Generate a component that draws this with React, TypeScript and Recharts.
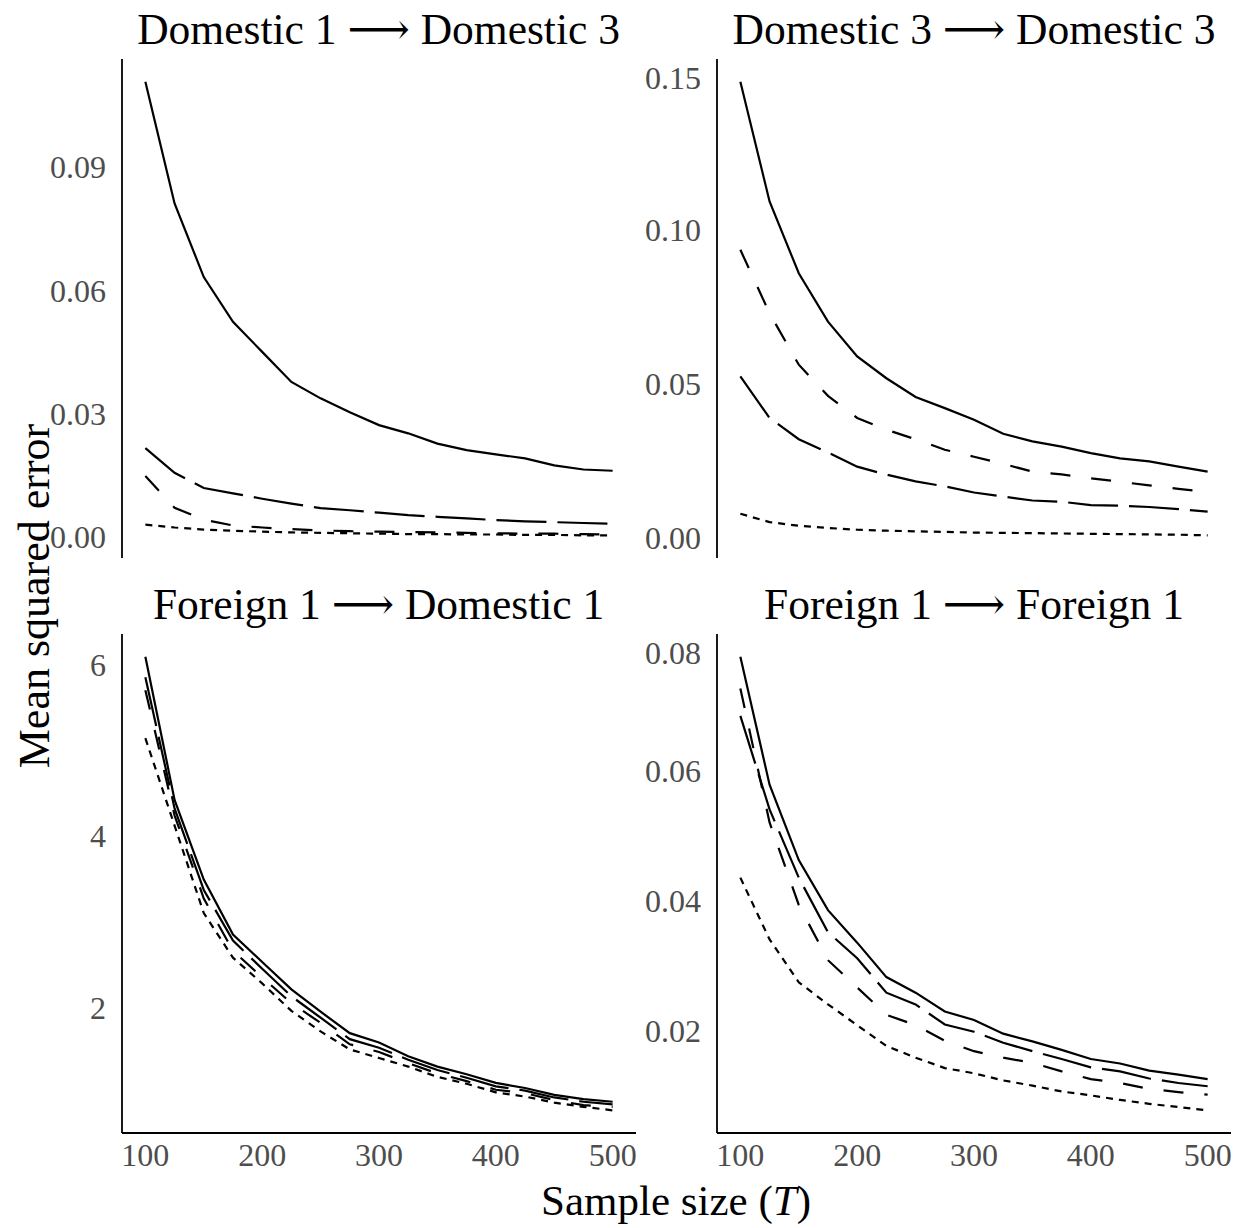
import { LineChart, Line, XAxis, YAxis } from "recharts";

const FONT = "'Liberation Serif', 'DejaVu Serif', serif";

const sampleSizes = [100, 125, 150, 175, 200, 225, 250, 275, 300, 325, 350, 375, 400, 425, 450, 475, 500];
const xTicks = [100, 200, 300, 400, 500];

// Domestic 1 -> Domestic 3
const d1d3Solid = [0.1107, 0.0811, 0.0632, 0.0523, 0.045, 0.0377, 0.0337, 0.0303, 0.0272, 0.0252, 0.0227, 0.0211, 0.0201, 0.0191, 0.0174, 0.0164, 0.0161];
const d1d3Long = [0.0216, 0.0156, 0.0119, 0.0106, 0.0093, 0.0081, 0.007, 0.0065, 0.0059, 0.0053, 0.0049, 0.0045, 0.0041, 0.0038, 0.0036, 0.0034, 0.0032];
const d1d3Dashed = [0.0148, 0.0071, 0.0042, 0.0028, 0.0023, 0.0019, 0.0016, 0.0014, 0.0013, 0.0012, 0.0011, 0.001, 0.0009, 0.0008, 0.0008, 0.0007, 0.0006];
const d1d3Short = [0.003, 0.0023, 0.0018, 0.0015, 0.0013, 0.0011, 0.001, 0.0009, 0.0008, 0.0007, 0.0007, 0.0006, 0.0006, 0.0005, 0.0005, 0.0004, 0.0004];

// Domestic 3 -> Domestic 3
const d3d3Solid = [0.1479, 0.109, 0.0857, 0.07, 0.0587, 0.0516, 0.0455, 0.0419, 0.0381, 0.0336, 0.0311, 0.0294, 0.0273, 0.0256, 0.0246, 0.0229, 0.0213];
const d3d3Long = [0.0522, 0.0387, 0.0318, 0.0275, 0.0229, 0.0203, 0.0181, 0.0165, 0.0145, 0.0132, 0.0119, 0.0115, 0.0104, 0.0102, 0.0098, 0.0091, 0.0083];
const d3d3Dashed = [0.0933, 0.0727, 0.056, 0.0459, 0.0387, 0.0349, 0.0318, 0.0284, 0.0261, 0.0238, 0.0213, 0.0204, 0.0191, 0.018, 0.0168, 0.0157, 0.0147];
const d3d3Short = [0.0076, 0.0049, 0.0037, 0.003, 0.0024, 0.0021, 0.0019, 0.0017, 0.0015, 0.0014, 0.0013, 0.0012, 0.0011, 0.001, 0.0009, 0.0008, 0.0006];

// Foreign 1 -> Domestic 1
const f1d1Solid = [6.09, 4.42, 3.49, 2.85, 2.53, 2.21, 1.95, 1.7, 1.59, 1.43, 1.31, 1.22, 1.12, 1.06, 0.98, 0.93, 0.9];
const f1d1Long = [5.85, 4.32, 3.37, 2.78, 2.45, 2.13, 1.88, 1.63, 1.53, 1.39, 1.27, 1.18, 1.08, 1.03, 0.95, 0.9, 0.87];
const f1d1Dashed = [5.7, 4.24, 3.27, 2.66, 2.35, 2.05, 1.82, 1.57, 1.48, 1.35, 1.23, 1.14, 1.04, 1.0, 0.92, 0.86, 0.84];
const f1d1Short = [5.14, 4.12, 3.1, 2.58, 2.28, 1.96, 1.72, 1.51, 1.41, 1.31, 1.19, 1.11, 1.01, 0.96, 0.89, 0.84, 0.8];

// Foreign 1 -> Foreign 1
const f1f1Solid = [0.0775, 0.0578, 0.0462, 0.0385, 0.0335, 0.0282, 0.0258, 0.0229, 0.0216, 0.0195, 0.0183, 0.017, 0.0156, 0.0149, 0.0138, 0.0132, 0.0125];
const f1f1Long = [0.0684, 0.054, 0.0435, 0.0351, 0.0311, 0.0258, 0.024, 0.0209, 0.0198, 0.0181, 0.0168, 0.0156, 0.0143, 0.0137, 0.0126, 0.0119, 0.0114];
const f1f1Dashed = [0.0726, 0.052, 0.0393, 0.0308, 0.0266, 0.0224, 0.0208, 0.0184, 0.0168, 0.0158, 0.015, 0.0137, 0.0125, 0.0119, 0.011, 0.0105, 0.0101];
const f1f1Short = [0.0435, 0.034, 0.0274, 0.024, 0.0208, 0.0176, 0.0158, 0.0142, 0.0134, 0.0123, 0.0115, 0.0106, 0.01, 0.0093, 0.0087, 0.0082, 0.0077];

const PLOT_W = 514;
const PLOT_H = 499;
const YAXIS_W = 120;
const XAXIS_H = 60;
const COL_X = [121.6, 717];
const ROW_Y = [59, 634];

interface PanelDef {
    title: string;
    solid: number[];
    longDash: number[];
    dashed: number[];
    shortDash: number[];
    yTicks: number[];
    digits: number;
    col: number;
    row: number;
}

const panels: PanelDef[] = [
    { title: "Domestic 1 \u27F6 Domestic 3", solid: d1d3Solid, longDash: d1d3Long, dashed: d1d3Dashed, shortDash: d1d3Short, yTicks: [0, 0.03, 0.06, 0.09], digits: 2, col: 0, row: 0 },
    { title: "Domestic 3 \u27F6 Domestic 3", solid: d3d3Solid, longDash: d3d3Long, dashed: d3d3Dashed, shortDash: d3d3Short, yTicks: [0, 0.05, 0.1, 0.15], digits: 2, col: 1, row: 0 },
    { title: "Foreign 1 \u27F6 Domestic 1", solid: f1d1Solid, longDash: f1d1Long, dashed: f1d1Dashed, shortDash: f1d1Short, yTicks: [2, 4, 6], digits: 0, col: 0, row: 1 },
    { title: "Foreign 1 \u27F6 Foreign 1", solid: f1f1Solid, longDash: f1f1Long, dashed: f1f1Dashed, shortDash: f1f1Short, yTicks: [0.02, 0.04, 0.06, 0.08], digits: 2, col: 1, row: 1 },
];

// ggplot-style 5% expansion on each side
const expand = (series: number[][]): [number, number] => {
    const all = series.flat();
    const lo = Math.min(...all);
    const hi = Math.max(...all);
    const pad = (hi - lo) * 0.05;
    return [lo - pad, hi + pad];
};

const SERIES = [
    { key: "solid", dash: undefined },
    { key: "longDash", dash: "50 11" },
    { key: "dashed", dash: "20 21" },
    { key: "shortDash", dash: "7 6" },
];

const Panel = ({ p }: { p: PanelDef }) => {
    const data = sampleSizes.map((t, i) => ({
        t,
        solid: p.solid[i],
        longDash: p.longDash[i],
        dashed: p.dashed[i],
        shortDash: p.shortDash[i],
    }));
    const bottom = p.row === 1;
    const x0 = COL_X[p.col];
    const y0 = ROW_Y[p.row];
    return (
        <>
            <div style={{
                position: "absolute", left: x0 - 40, top: y0 - 56, width: PLOT_W + 80, height: 52,
                textAlign: "center", fontFamily: FONT, fontSize: 43.5, lineHeight: "52px", color: "#000",
                whiteSpace: "nowrap",
            }}>
                {p.title}
            </div>
            <div style={{ position: "absolute", left: x0 - YAXIS_W, top: y0 }}>
                <LineChart width={YAXIS_W + PLOT_W + 4} height={PLOT_H + (bottom ? XAXIS_H : 0)} data={data}
                    margin={{ top: 0, right: 4, bottom: 0, left: 0 }}>
                    <XAxis dataKey="t" type="number" domain={[80, 520]} ticks={xTicks} hide={!bottom}
                        height={XAXIS_H} allowDataOverflow
                        axisLine={{ stroke: "#000", strokeWidth: 1.8 }} tickLine={false} tickSize={0} tickMargin={10}
                        tick={{ fill: "#4D4D4D", fontSize: 32, fontFamily: FONT }} />
                    <YAxis type="number" domain={expand([p.solid, p.longDash, p.dashed, p.shortDash])}
                        ticks={p.yTicks} width={YAXIS_W} allowDataOverflow
                        tickFormatter={(v: number) => v.toFixed(p.digits)}
                        axisLine={{ stroke: "#000", strokeWidth: 1.8 }} tickLine={false} tickSize={0} tickMargin={16}
                        tick={{ fill: "#4D4D4D", fontSize: 32, fontFamily: FONT }} />
                    {SERIES.map((s) => (
                        <Line key={s.key} type="linear" dataKey={s.key} stroke="#000" strokeWidth={2.2}
                            strokeDasharray={s.dash} dot={false} activeDot={false} isAnimationActive={false} />
                    ))}
                </LineChart>
            </div>
        </>
    );
};

const App = () => {
    return (
        <div style={{ position: "relative", width: 1238, height: 1228, background: "#fff", overflow: "hidden" }}>
            <style>{"body{margin:0}"}</style>
            {panels.map((p) => <Panel key={p.title} p={p} />)}
            <div style={{
                position: "absolute", left: 35 - 300, top: 596 - 28, width: 600, height: 56,
                transform: "rotate(-90deg)", textAlign: "center", fontFamily: FONT, fontSize: 44,
                lineHeight: "56px", color: "#000",
            }}>
                Mean squared error
            </div>
            <div style={{
                position: "absolute", left: 676 - 300, top: 1176, width: 600, height: 50,
                textAlign: "center", fontFamily: FONT, fontSize: 43, lineHeight: "50px", color: "#000",
            }}>
                Sample size (<i>T</i>)
            </div>
        </div>
    );
};

export default App;
